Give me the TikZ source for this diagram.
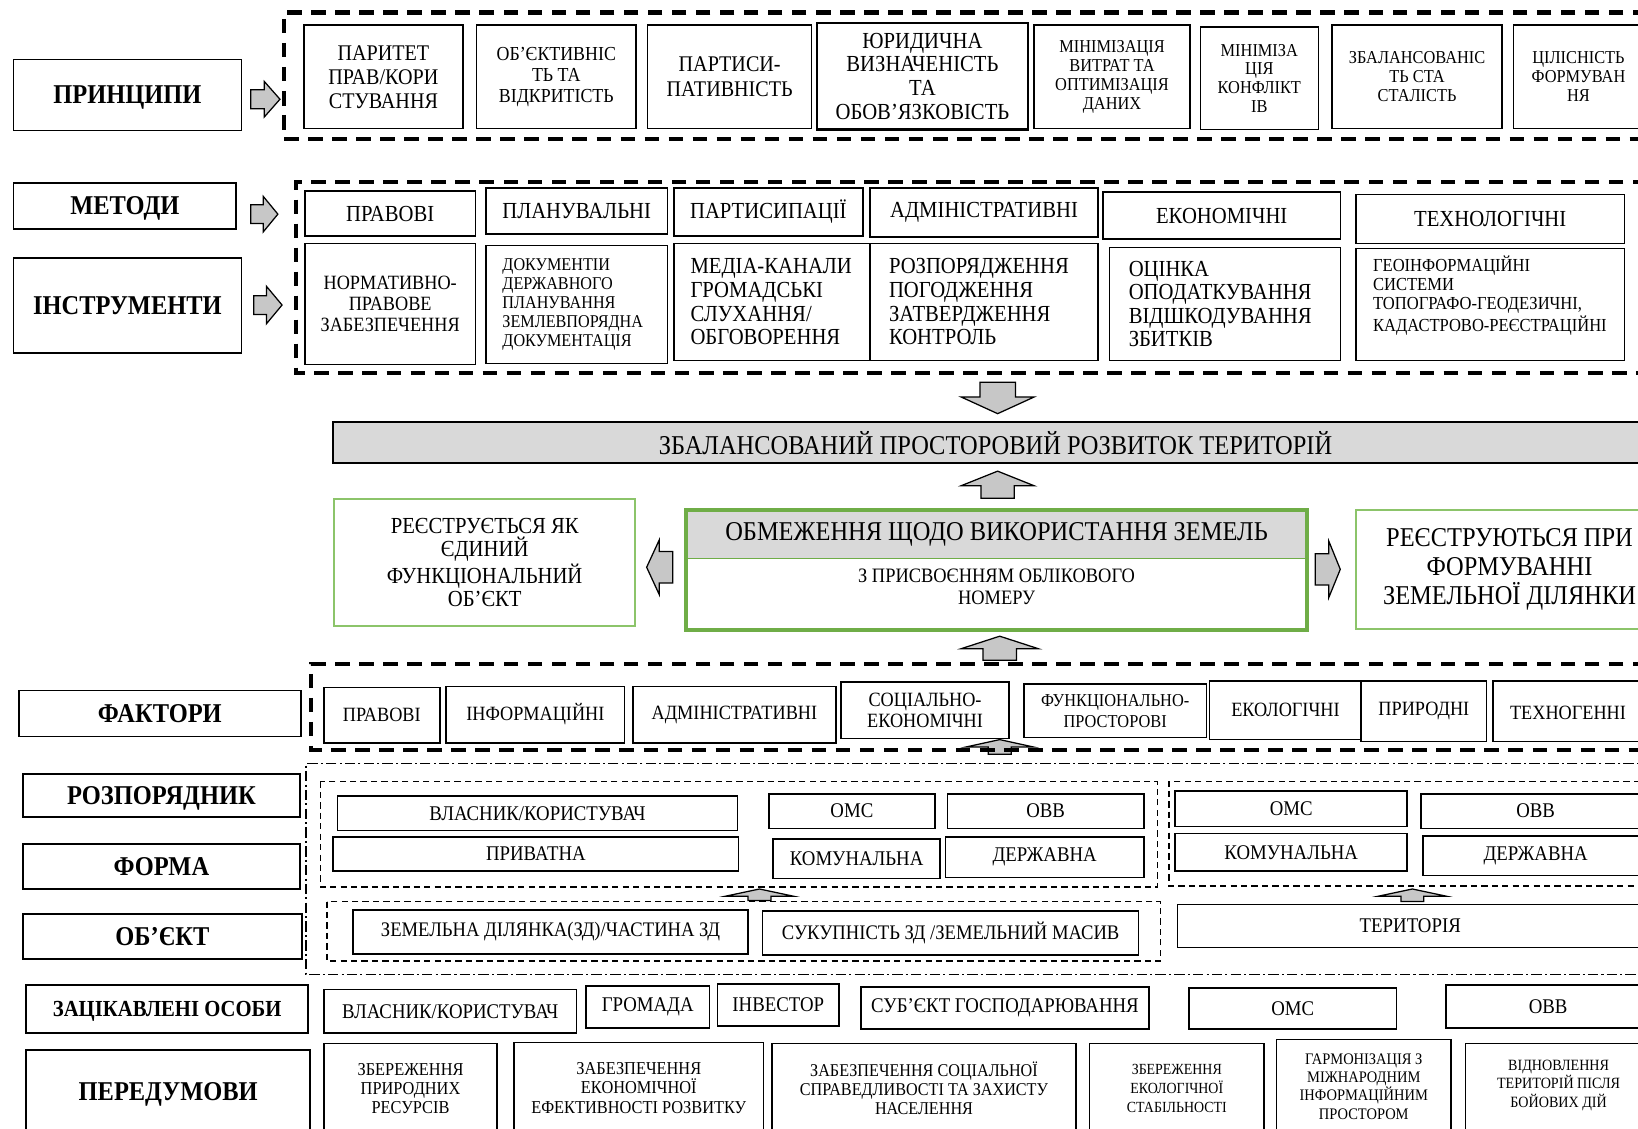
\documentclass[tikz,border=0pt]{standalone}
\usepackage{fontspec}
\setmainfont{Liberation Serif}[FakeStretch=0.9]
\newcommand\fs[2]{\fontsize{#1}{#2}\selectfont}
\newcommand\bx[7][]{\node[box,minimum width={(#5-#3)*0.5pt},minimum height={(#6-#4)*0.5pt},#1] (#2) at ({(#3+#5)/2},{(#4+#6)/2}) {#7};}
% block arrows: x1,x2,yc,headhalf,shafthalf,headlen
\newcommand\arR[6]{\draw[arr] (#1,#3-#5) -- (#2-#6,#3-#5) -- (#2-#6,#3-#4) -- (#2,#3) -- (#2-#6,#3+#4) -- (#2-#6,#3+#5) -- (#1,#3+#5) -- cycle;}
\newcommand\arL[6]{\draw[arr] (#2,#3-#5) -- (#1+#6,#3-#5) -- (#1+#6,#3-#4) -- (#1,#3) -- (#1+#6,#3+#4) -- (#1+#6,#3+#5) -- (#2,#3+#5) -- cycle;}
% vertical: y1(top),y2(bottom),xc,headhalf,shafthalf,headlen
\newcommand\arU[6]{\draw[arr] (#3-#5,#2) -- (#3-#5,#1+#6) -- (#3-#4,#1+#6) -- (#3,#1) -- (#3+#4,#1+#6) -- (#3+#5,#1+#6) -- (#3+#5,#2) -- cycle;}
\newcommand\arD[6]{\draw[arr] (#3-#5,#1) -- (#3-#5,#2-#6) -- (#3-#4,#2-#6) -- (#3,#2) -- (#3+#4,#2-#6) -- (#3+#5,#2-#6) -- (#3+#5,#1) -- cycle;}
\definecolor{grn}{HTML}{6FAD47}
\definecolor{lgrn}{HTML}{8CC46A}
\begin{document}
\begin{tikzpicture}[x=0.5pt,y=-0.5pt,
  box/.style={draw,line width=0.75pt,inner sep=1pt,align=center,fill=white,font=\fs{10}{11}},
  txt/.style={inner sep=0pt,align=center,font=\fs{10}{11}},
  lbl/.style={box,font=\bfseries\fs{13}{14},text depth=0pt},
  bigdash/.style={line width=2pt,dash pattern=on 7pt off 4.5pt},
  meddash/.style={line width=0.7pt,dash pattern=on 3pt off 2pt},
  dashdot/.style={line width=0.6pt,dash pattern=on 5pt off 1.5pt on 1pt off 1.5pt},
  arr/.style={draw,line width=0.6pt,fill=black!22}]
\useasboundingbox (0,0) rectangle (1568,1080);
\clip (0,0) rectangle (1568,1080);

% ---------- ПРИНЦИПИ
\bx[lbl]{prn}{13}{57}{231}{125}{ПРИНЦИПИ}
\arR{240}{268}{95}{17}{9}{15}
\draw[bigdash] (1600,12) -- (272,12) -- (272,133) -- (1600,133);
\bx[font=\fs{10.7}{11.5}]{p1}{291}{24}{443}{123}{ПАРИТЕТ\\ПРАВ/КОРИ\\СТУВАННЯ}
\bx[font=\fs{9.5}{10}]{p2}{456}{24}{609}{123}{ОБ’ЄКТИВНІС\\ТЬ ТА\\ВІДКРИТІСТЬ}
\bx[font=\fs{10.7}{12}]{p3}{620}{24}{777}{123}{ПАРТИСИ-\\ПАТИВНІСТЬ}
\bx[font=\fs{11}{11.3},line width=1pt]{p4}{782}{22}{984}{124}{ЮРИДИЧНА\\ВИЗНАЧЕНІСТЬ\\ТА\\ОБОВ’ЯЗКОВІСТЬ}
\bx[font=\fs{8.7}{9}]{p5}{990}{24}{1139}{123}{МІНІМІЗАЦІЯ\\ВИТРАТ ТА\\ОПТИМІЗАЦІЯ\\ДАНИХ}
\bx[font=\fs{8.7}{9}]{p6}{1149}{26}{1262}{124}{МІНІМІЗА\\ЦІЯ\\КОНФЛІКТ\\ІВ}
\bx[font=\fs{8.7}{9}]{p7}{1275}{24}{1438}{123}{ЗБАЛАНСОВАНІС\\ТЬ СТА\\СТАЛІСТЬ}
\bx{p8}{1449}{24}{1630}{123}{}
\node[txt,font=\fs{8.7}{9}] (p8t) at (1511,73) {ЦІЛІСНІСТЬ\\ФОРМУВАН\\НЯ};

% ---------- МЕТОДИ / ІНСТРУМЕНТИ
\bx[lbl]{met}{13}{175}{226}{219}{МЕТОДИ}
\bx[lbl]{ins}{13}{247}{231}{338}{ІНСТРУМЕНТИ}
\arR{240}{266}{205}{17}{9}{14}
\arR{243}{270}{292}{18}{9}{15}
\draw[bigdash] (1600,174) -- (283,174) -- (283,357) -- (1600,357);
\bx[font=\fs{11}{11.5}]{m1}{292}{183}{455}{226}{ПРАВОВІ}
\bx[font=\fs{11}{11.5}]{m2}{465}{180}{639}{224}{ПЛАНУВАЛЬНІ}
\bx[font=\fs{11}{11.5}]{m3}{645}{180}{826}{226}{ПАРТИСИПАЦІЇ}
\bx[font=\fs{11}{11.5}]{m4}{833}{180}{1051}{227}{АДМІНІСТРАТИВНІ}
\bx[font=\fs{11}{11.5}]{m5}{1056}{184}{1283}{229}{ЕКОНОМІЧНІ}
\bx[font=\fs{11}{11.5}]{m6}{1298}{186}{1555}{233}{ТЕХНОЛОГІЧНІ}
\bx[font=\fs{9.7}{10}]{i1}{292}{233}{455}{349}{НОРМАТИВНО-\\ПРАВОВЕ\\ЗАБЕЗПЕЧЕННЯ}
\bx[font=\fs{8.6}{9},align=left,text width=71pt]{i2}{465}{235}{639}{348}{ДОКУМЕНТІИ\\ДЕРЖАВНОГО\\ПЛАНУВАННЯ\\ЗЕМЛЕВПОРЯДНА\\ДОКУМЕНТАЦІЯ}
\bx[font=\fs{11}{11.3},align=left,text width=78pt]{i3}{645}{233}{833}{345}{МЕДІА-КАНАЛИ\\ГРОМАДСЬКІ\\СЛУХАННЯ/\\ОБГОВОРЕННЯ}
\bx[font=\fs{11}{11.3},align=left,text width=91pt]{i4}{833}{233}{1051}{345}{РОЗПОРЯДЖЕННЯ\\ПОГОДЖЕННЯ\\ЗАТВЕРДЖЕННЯ\\КОНТРОЛЬ}
\bx[font=\fs{11}{11.3},align=left,text width=92pt]{i5}{1062}{237}{1283}{345}{ОЦІНКА\\ОПОДАТКУВАННЯ\\ВІДШКОДУВАННЯ\\ЗБИТКІВ}
\bx{i6}{1298}{238}{1555}{345}{}
\node[txt,anchor=west,align=left,font=\fs{8.8}{9.2}] (i6t) at (1314,283) {ГЕОІНФОРМАЦІЙНІ\\СИСТЕМИ\\ТОПОГРАФО-ГЕОДЕЗИЧНІ,\\КАДАСТРОВО-РЕЄСТРАЦІЙНІ};

% ---------- ЦЕНТР
\arD{366}{396}{955}{35}{17}{16}
\bx[fill=black!15]{bal}{319}{404}{1640}{443}{}
\node[txt,font=\fs{13}{14}] (balt) at (953,424) {ЗБАЛАНСОВАНИЙ ПРОСТОРОВИЙ РОЗВИТОК ТЕРИТОРІЙ};
\arU{451}{477}{955}{35}{16}{14}
\bx[draw=lgrn,line width=0.9pt,font=\fs{11}{11.3}]{lft}{320}{478}{608}{599}{РЕЄСТРУЄТЬСЯ ЯК\\ЄДИНИЙ\\ФУНКЦІОНАЛЬНИЙ\\ОБ’ЄКТ}
\arL{619}{644}{543}{26}{15}{12}
\bx[draw=grn,line width=1.8pt]{ob}{657}{488}{1251}{603}{}
\bx[draw=none,fill=black!15,font=\fs{13}{13}]{obt}{659}{490}{1249}{534}{ОБМЕЖЕННЯ ЩОДО ВИКОРИСТАННЯ ЗЕМЕЛЬ}
\draw[grn,line width=0.8pt] (obt.south west) -- (obt.south east);
\node[txt,font=\fs{9.8}{10.5}] (obb) at (954,562) {З ПРИСВОЄННЯМ ОБЛІКОВОГО\\НОМЕРУ};
\arR{1259}{1283}{545}{27}{15}{11}
\bx[draw=lgrn,line width=0.9pt]{rgt}{1298}{488}{1640}{602}{}
\node[txt,font=\fs{13}{13.7}] (rgtt) at (1445,545) {РЕЄСТРУЮТЬСЯ ПРИ\\ФОРМУВАННІ\\ЗЕМЕЛЬНОЇ ДІЛЯНКИ};
\arU{609}{632}{957}{37}{16}{12}

% ---------- ФАКТОРИ
\bx[lbl]{fak}{18}{661}{288}{705}{ФАКТОРИ}
\arU{708}{722}{957}{32}{11}{7}
\draw[bigdash] (1600,636) -- (298,636) -- (298,718) -- (1600,718);
\bx[font=\fs{9.7}{10}]{f1}{310}{658}{421}{711}{ПРАВОВІ}
\bx[font=\fs{9.7}{10}]{f2}{427}{657}{598}{711}{ІНФОРМАЦІЙНІ}
\bx[font=\fs{9.7}{10}]{f3}{606}{657}{800}{711}{АДМІНІСТРАТИВНІ}
\bx[font=\fs{9.7}{10}]{f4}{805}{653}{966}{707}{СОЦІАЛЬНО-\\ЕКОНОМІЧНІ}
\bx[font=\fs{8.7}{10}]{f5}{980}{655}{1155}{706}{ФУНКЦІОНАЛЬНО-\\ПРОСТОРОВІ}
\bx[font=\fs{9.7}{10}]{f6}{1158}{652}{1303}{708}{ЕКОЛОГІЧНІ}
\bx[font=\fs{9.7}{10}]{f7}{1303}{652}{1423}{710}{ПРИРОДНІ}
\bx{f8}{1429}{652}{1640}{710}{}
\node[txt,font=\fs{9.7}{10}] (f8t) at (1501,682) {ТЕХНОГЕННІ};

% ---------- РОЗПОРЯДНИК / ФОРМА / ОБ'ЄКТ
\bx[lbl]{roz}{22}{741}{287}{782}{РОЗПОРЯДНИК}
\bx[lbl]{frm}{22}{808}{287}{851}{ФОРМА}
\bx[lbl]{obj}{22}{875}{289}{918}{ОБ’ЄКТ}
\draw[dashdot] (1600,731) -- (293,731) -- (293,933) -- (1600,933);
\draw[meddash] (307,748) rectangle (1108,849);
\draw[meddash] (313,863) rectangle (1111,920);
\draw[meddash] (1600,748) -- (1119,748) -- (1119,848) -- (1600,848);
\bx[font=\fs{10}{10}]{r1}{323}{762}{706}{795}{ВЛАСНИК/КОРИСТУВАЧ}
\bx[font=\fs{10}{10}]{r2}{319}{801}{707}{834}{ПРИВАТНА}
\bx[font=\fs{10}{10}]{r3}{736}{760}{895}{793}{ОМС}
\bx[font=\fs{10}{10}]{r4}{907}{760}{1095}{793}{ОВВ}
\bx[font=\fs{10}{10}]{r5}{740}{803}{900}{841}{КОМУНАЛЬНА}
\bx[font=\fs{10}{10}]{r6}{905}{801}{1095}{840}{ДЕРЖАВНА}
\arU{851}{862}{727}{33}{11}{7}
\bx[font=\fs{9.9}{10}]{o1}{338}{871}{716}{913}{ЗЕМЕЛЬНА ДІЛЯНКА(ЗД)/ЧАСТИНА ЗД}
\bx[font=\fs{9.9}{10}]{o2}{730}{872}{1090}{914}{СУКУПНІСТЬ ЗД /ЗЕМЕЛЬНИЙ МАСИВ}
\bx[font=\fs{10}{10}]{t1}{1125}{757}{1347}{791}{ОМС}
\bx{t2}{1360}{760}{1640}{793}{}
\node[txt,font=\fs{10}{10}] (t2t) at (1470,776) {ОВВ};
\bx[font=\fs{10}{10}]{t3}{1125}{798}{1347}{834}{КОМУНАЛЬНА}
\bx{t4}{1362}{800}{1640}{838}{}
\node[txt,font=\fs{10}{10}] (t4t) at (1470,819) {ДЕРЖАВНА};
\arU{851}{863}{1352}{33}{11}{7}
\bx{ter}{1127}{866}{1640}{907}{}
\node[txt,font=\fs{10}{10}] (tert) at (1350,886) {ТЕРИТОРІЯ};

% ---------- ЗАЦІКАВЛЕНІ ОСОБИ
\bx[lbl,font=\bfseries\fs{11}{12}]{zac}{25}{943}{295}{989}{ЗАЦІКАВЛЕНІ ОСОБИ}
\bx[font=\fs{10}{11}]{z1}{310}{947}{552}{989}{ВЛАСНИК/КОРИСТУВАЧ}
\bx[font=\fs{10}{11}]{z2}{561}{944}{679}{984}{ГРОМАДА}
\bx[font=\fs{10}{11}]{z3}{687}{942}{803}{982}{ІНВЕСТОР}
\bx[font=\fs{10}{11}]{z4}{824}{945}{1100}{985}{СУБ’ЄКТ ГОСПОДАРЮВАННЯ}
\bx[font=\fs{10}{11}]{z5}{1138}{946}{1337}{985}{ОМС}
\bx{z6}{1384}{943}{1640}{984}{}
\node[txt,font=\fs{10}{11}] (z6t) at (1482,964) {ОВВ};

% ---------- ПЕРЕДУМОВИ
\bx[lbl]{per}{25}{1005}{297}{1085}{ПЕРЕДУМОВИ}
\bx[font=\fs{8.7}{9}]{q1}{310}{999}{476}{1085}{ЗБЕРЕЖЕННЯ\\ПРИРОДНИХ\\РЕСУРСІВ}
\bx[font=\fs{8.7}{9.2}]{q2}{492}{998}{731}{1085}{ЗАБЕЗПЕЧЕННЯ\\ЕКОНОМІЧНОЇ\\ЕФЕКТИВНОСТІ РОЗВИТКУ}
\bx[font=\fs{8.6}{9.2}]{q3}{739}{999}{1030}{1085}{ЗАБЕЗПЕЧЕННЯ СОЦІАЛЬНОЇ\\СПРАВЕДЛИВОСТІ ТА ЗАХИСТУ\\НАСЕЛЕННЯ}
\bx[font=\fs{7.4}{9}]{q4}{1043}{999}{1210}{1085}{ЗБЕРЕЖЕННЯ\\ЕКОЛОГІЧНОЇ\\СТАБІЛЬНОСТІ}
\bx[font=\fs{7.7}{8.8}]{q5}{1222}{995}{1389}{1085}{ГАРМОНІЗАЦІЯ З\\МІЖНАРОДНИМ\\ІНФОРМАЦІЙНИМ\\ПРОСТОРОМ}
\bx{q6}{1403}{999}{1640}{1085}{}
\node[txt,font=\fs{7.5}{9}] (q6t) at (1492,1039) {ВІДНОВЛЕННЯ\\ТЕРИТОРІЙ ПІСЛЯ\\БОЙОВИХ ДІЙ};
\end{tikzpicture}
\end{document}
